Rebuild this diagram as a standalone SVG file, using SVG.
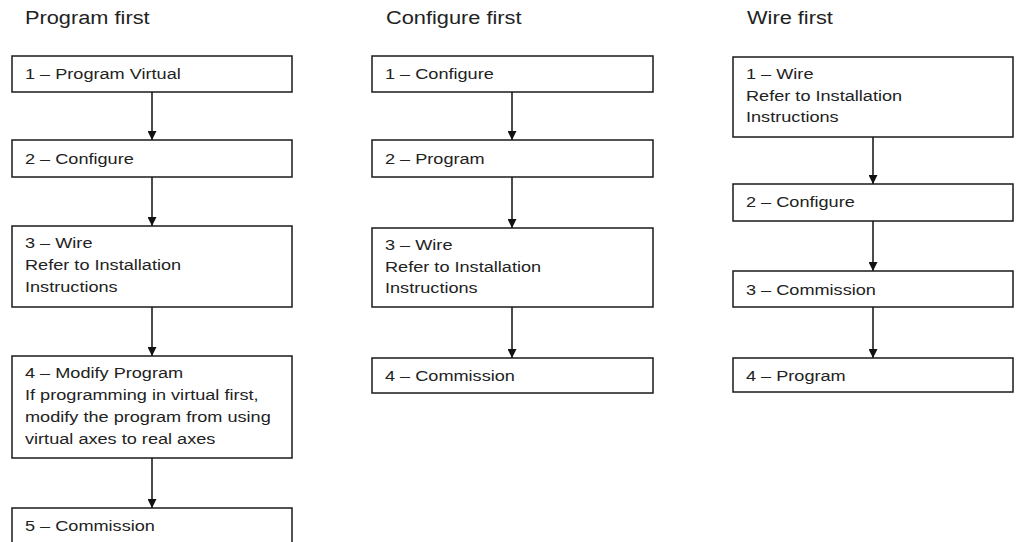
<svg xmlns="http://www.w3.org/2000/svg" width="1016" height="542" viewBox="0 0 1016 542">
  <style>
    .box { fill: #ffffff; stroke: #1a1a1a; stroke-width: 1.5; }
    .t { font-family: "Liberation Sans", Arial, sans-serif; font-size: 15px; fill: #222222; }
    .h { font-family: "Liberation Sans", Arial, sans-serif; font-size: 18px; fill: #222222; }
    .c { stroke: #111111; stroke-width: 1.5; fill: none; marker-end: url(#arr); }
  </style>
  <defs>
    <marker id="arr" viewBox="0 0 10 10" refX="10" refY="5" markerWidth="9" markerHeight="9" markerUnits="userSpaceOnUse" orient="auto">
      <path d="M0,0 L10,5 L0,10 z" fill="#111111"/>
    </marker>
  </defs>
  <rect width="1016" height="542" fill="#ffffff"/>

  <g id="headings">
    <text class="h" transform="translate(25,24) scale(1.21,1)">Program first</text>
    <text class="h" transform="translate(386,24) scale(1.21,1)">Configure first</text>
    <text class="h" transform="translate(747,24) scale(1.21,1)">Wire first</text>
  </g>

  <g id="connectors">
    <line class="c" x1="152" y1="92" x2="152" y2="140"/>
    <line class="c" x1="152" y1="177" x2="152" y2="226"/>
    <line class="c" x1="152" y1="307" x2="152" y2="356"/>
    <line class="c" x1="152" y1="458" x2="152" y2="508"/>

    <line class="c" x1="512" y1="92" x2="512" y2="140"/>
    <line class="c" x1="512" y1="177" x2="512" y2="228"/>
    <line class="c" x1="512" y1="307" x2="512" y2="358"/>

    <line class="c" x1="873" y1="137" x2="873" y2="184"/>
    <line class="c" x1="873" y1="221" x2="873" y2="271"/>
    <line class="c" x1="873" y1="307" x2="873" y2="358"/>
  </g>

  <g id="p1">
    <rect class="box" x="12" y="56" width="280" height="36"/>
    <text class="t" transform="translate(25,79) scale(1.21,1)">1 – Program Virtual</text>
  </g>
  <g id="p2">
    <rect class="box" x="12" y="140" width="280" height="37"/>
    <text class="t" transform="translate(25,164) scale(1.21,1)">2 – Configure</text>
  </g>
  <g id="p3">
    <rect class="box" x="12" y="226" width="280" height="81"/>
    <text class="t" transform="translate(25,248) scale(1.21,1)">3 – Wire</text>
    <text class="t" transform="translate(25,270) scale(1.21,1)">Refer to Installation</text>
    <text class="t" transform="translate(25,291.5) scale(1.21,1)">Instructions</text>
  </g>
  <g id="p4">
    <rect class="box" x="12" y="356" width="280" height="102"/>
    <text class="t" transform="translate(25,378) scale(1.21,1)">4 – Modify Program</text>
    <text class="t" transform="translate(25,400) scale(1.21,1)">If programming in virtual first,</text>
    <text class="t" transform="translate(25,422) scale(1.21,1)">modify the program from using</text>
    <text class="t" transform="translate(25,444) scale(1.21,1)">virtual axes to real axes</text>
  </g>
  <g id="p5">
    <rect class="box" x="12" y="508" width="280" height="60"/>
    <text class="t" transform="translate(25,531) scale(1.21,1)">5 – Commission</text>
  </g>

  <g id="c1">
    <rect class="box" x="372" y="56" width="281" height="36"/>
    <text class="t" transform="translate(385,79) scale(1.21,1)">1 – Configure</text>
  </g>
  <g id="c2">
    <rect class="box" x="372" y="140" width="281" height="37"/>
    <text class="t" transform="translate(385,164) scale(1.21,1)">2 – Program</text>
  </g>
  <g id="c3">
    <rect class="box" x="372" y="228" width="281" height="79"/>
    <text class="t" transform="translate(385,250) scale(1.21,1)">3 – Wire</text>
    <text class="t" transform="translate(385,272) scale(1.21,1)">Refer to Installation</text>
    <text class="t" transform="translate(385,293) scale(1.21,1)">Instructions</text>
  </g>
  <g id="c4">
    <rect class="box" x="372" y="358" width="281" height="35"/>
    <text class="t" transform="translate(385,381) scale(1.21,1)">4 – Commission</text>
  </g>

  <g id="w1">
    <rect class="box" x="733" y="57" width="280" height="80"/>
    <text class="t" transform="translate(746,79) scale(1.21,1)">1 – Wire</text>
    <text class="t" transform="translate(746,101) scale(1.21,1)">Refer to Installation</text>
    <text class="t" transform="translate(746,122) scale(1.21,1)">Instructions</text>
  </g>
  <g id="w2">
    <rect class="box" x="733" y="184" width="280" height="37"/>
    <text class="t" transform="translate(746,207) scale(1.21,1)">2 – Configure</text>
  </g>
  <g id="w3">
    <rect class="box" x="733" y="271" width="280" height="36"/>
    <text class="t" transform="translate(746,295) scale(1.21,1)">3 – Commission</text>
  </g>
  <g id="w4">
    <rect class="box" x="733" y="358" width="280" height="34"/>
    <text class="t" transform="translate(746,381) scale(1.21,1)">4 – Program</text>
  </g>
</svg>
